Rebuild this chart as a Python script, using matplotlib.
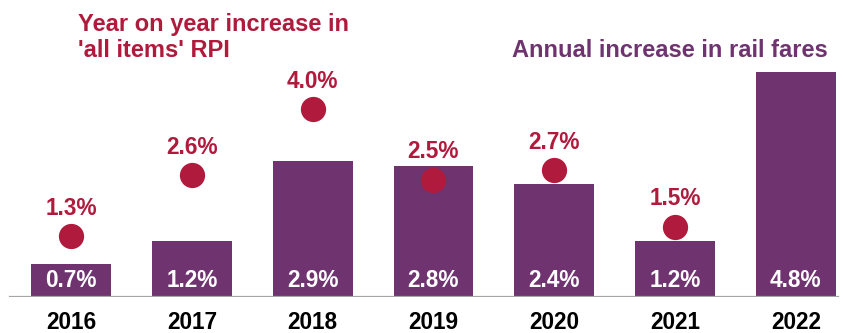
import matplotlib.pyplot as plt

plt.rcParams['font.family'] = ['Liberation Sans', 'DejaVu Sans']

years = ['2016', '2017', '2018', '2019', '2020', '2021', '2022']
fare_rise = [0.7, 1.2, 2.9, 2.8, 2.4, 1.2, 4.8]
rpi = [1.3, 2.6, 4.0, 2.5, 2.7, 1.5]   # no RPI figure for 2022

purple = '#6F3370'
red = '#B01A3C'

fig = plt.figure(figsize=(8.43, 3.33), dpi=100)
ax = fig.add_axes([0, 36 / 333, 1, 297 / 333])

x = list(range(len(years)))
ax.bar(x, fare_rise, width=0.66, color=purple, zorder=2)
ax.scatter(x[:len(rpi)], rpi, s=330, color=red, zorder=3, linewidths=0)

# labels inside the bars and above the dots
for xi, v in zip(x, fare_rise):
    ax.annotate(f'{v:.1f}%', (xi, 0), xytext=(0, 12.2), textcoords='offset points',
                ha='center', va='center', color='white', fontsize=16.3, fontweight='bold', zorder=4)
for xi, v in zip(x, rpi):
    ax.annotate(f'{v:.1f}%', (xi, v), xytext=(0, 20), textcoords='offset points',
                ha='center', va='center', color=red, fontsize=16.3, fontweight='bold', zorder=4)

ax.set_xlim(-0.588, 6.39)
ax.set_ylim(0, 6.33)
ax.axhline(0, xmin=10 / 843, xmax=838 / 843, color='#A6A6A6', lw=1.6, zorder=5)

ax.set_xticks(x, years, fontsize=16.3, fontweight='bold')
ax.tick_params(axis='x', length=0, pad=10)
ax.set_yticks([])
for s in ax.spines.values():
    s.set_visible(False)

fig.text(78 / 843, 1 - 31 / 333, "Year on year increase in", color=red,
         fontsize=17, fontweight='bold', ha='left', va='baseline')
fig.text(78 / 843, 1 - 57 / 333, "'all items' RPI", color=red,
         fontsize=17, fontweight='bold', ha='left', va='baseline')
fig.text(512 / 843, 1 - 57 / 333, 'Annual increase in rail fares', color=purple,
         fontsize=17, fontweight='bold', ha='left', va='baseline')

fig.savefig('out.png', dpi=100)
